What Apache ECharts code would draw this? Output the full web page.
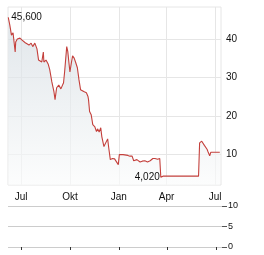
<!DOCTYPE html>
<html>
<head>
<meta charset="utf-8">
<script src="https://cdn.jsdelivr.net/npm/echarts@6/dist/echarts.min.js"></script>
<style>
html,body{margin:0;padding:0;background:#fff;}
#c{width:264px;height:255px;}
</style>
</head>
<body>
<div id="c"></div>
<script>
var dates = [
'2024-06-07','2024-06-10','2024-06-13','2024-06-16','2024-06-20','2024-06-21','2024-06-24','2024-06-29',
'2024-07-03','2024-07-06','2024-07-09','2024-07-12','2024-07-16','2024-07-20','2024-07-23','2024-07-27',
'2024-07-31','2024-08-03','2024-08-05','2024-08-09','2024-08-12','2024-08-13','2024-08-17','2024-08-21',
'2024-08-24','2024-08-28','2024-09-01','2024-09-03','2024-09-06','2024-09-10','2024-09-14','2024-09-17',
'2024-09-19','2024-09-21','2024-09-25','2024-09-27','2024-09-29','2024-10-01','2024-10-04','2024-10-06',
'2024-10-09','2024-10-12','2024-10-15','2024-10-18','2024-10-21','2024-10-23','2024-10-27','2024-10-29',
'2024-11-01','2024-11-04','2024-11-05','2024-11-07','2024-11-10','2024-11-13','2024-11-17','2024-11-20',
'2024-11-22','2024-11-25','2024-11-28','2024-11-30','2024-12-04','2024-12-07','2024-12-11','2024-12-13',
'2024-12-16','2024-12-20','2024-12-24','2024-12-26','2024-12-31','2025-01-02','2025-01-05','2025-01-09',
'2025-01-12','2025-01-18','2025-01-22','2025-01-26','2025-01-29','2025-02-01','2025-02-04','2025-02-10',
'2025-02-14','2025-02-19','2025-02-24','2025-03-01','2025-03-06','2025-03-10','2025-03-15','2025-03-19',
'2025-03-21','2025-03-25','2025-05-31','2025-06-02','2025-06-06','2025-06-11','2025-06-14','2025-06-16',
'2025-06-18','2025-06-21','2025-06-23','2025-07-01','2025-07-10'
];
var prices = [
45.6,43.5,41.0,41.6,36.6,39.2,40.0,40.2,
39.7,40.0,39.0,39.3,38.4,38.9,38.0,38.9,
37.4,34.5,34.8,34.0,36.6,34.0,34.5,33.5,
32.0,28.8,26.2,24.2,27.3,28.0,27.0,27.5,
28.6,31.4,38.0,36.7,34.0,31.4,34.0,35.6,
35.0,33.8,32.5,29.4,26.8,27.3,26.3,26.8,
26.0,25.0,24.2,21.1,20.3,17.7,17.1,15.9,
16.6,15.8,16.9,14.6,12.0,11.7,14.0,11.7,
8.6,8.9,8.8,9.0,7.3,9.9,10.1,9.9,
9.9,9.7,9.5,9.5,8.3,8.5,8.6,8.0,
8.2,8.3,8.0,8.3,8.9,8.9,8.7,8.9,
4.02,4.3,4.3,12.95,13.4,12.3,11.9,11.3,
10.6,9.6,10.5,10.5,10.5
];
var monthTicks = ['2024-07-01','2024-10-01','2025-01-01','2025-04-01','2025-07-01'];
var monthLabels = ['Jul','Okt','Jan','Apr','Jul'];
var priceTicks = [10,20,30,40];
var volumeTicks = [0,5,10];

function ts(s){var p=s.split('-');return Date.UTC(+p[0],+p[1]-1,+p[2]);}
var seriesData = dates.map(function(d,i){return [ts(d),prices[i]];});
var tickTs = monthTicks.map(ts);
var xMin = Date.UTC(2024,5,6,12), xMax = Date.UTC(2025,6,12,6);
function monthLabel(v){var i=tickTs.indexOf(v);return i>=0?monthLabels[i]:'';}
function fmt(v){return v.toFixed(3).replace('.',',');}

var font = 'Liberation Sans, Arial, sans-serif';
var chart = echarts.init(document.getElementById('c'), null, {renderer:'canvas'});
chart.setOption({
  animation:false,
  grid:[
    {left:8,right:43,top:7,bottom:70,show:true,borderColor:'#e6e6e6',borderWidth:1,backgroundColor:'transparent'},
    {left:8,right:42,top:206,height:41,show:false}
  ],
  xAxis:[
    {type:'value',gridIndex:0,min:xMin,max:xMax,scale:true,
     axisLine:{show:false},
     axisTick:{show:false,customValues:tickTs},
     axisLabel:{customValues:tickTs,formatter:monthLabel,fontSize:10,color:'#111',fontFamily:font,margin:7},
     splitLine:{show:true,lineStyle:{color:'#e6e6e6',width:1}}},
    {type:'value',gridIndex:1,min:xMin,max:xMax,scale:true,position:'top',
     axisLine:{show:false},
     axisTick:{show:true,inside:true,length:3,customValues:tickTs,lineStyle:{color:'#333'}},
     axisLabel:{show:false},
     splitLine:{show:false}}
  ],
  yAxis:[
    {type:'value',gridIndex:0,position:'right',min:2,max:48.3,
     axisLine:{show:false},
     axisTick:{show:false,customValues:priceTicks},
     axisLabel:{customValues:priceTicks,fontSize:10,color:'#111',fontFamily:font,margin:5},
     splitLine:{show:true,lineStyle:{color:'#e6e6e6',width:1}}},
    {type:'value',gridIndex:1,position:'right',min:0,max:10,interval:5,
     axisLine:{show:false},
     axisTick:{show:true,length:5,lineStyle:{color:'#555'}},
     axisLabel:{customValues:volumeTicks,fontSize:9,color:'#111',fontFamily:font,margin:6},
     splitLine:{show:true,lineStyle:{color:'#cccccc',width:1}}}
  ],
  series:[{
    type:'line',xAxisIndex:0,yAxisIndex:0,data:seriesData,
    showSymbol:false,symbol:'none',
    lineStyle:{color:'#c4403c',width:1.1},
    areaStyle:{color:new echarts.graphic.LinearGradient(0,0,0,1,[{offset:0,color:'#d3dbe1'},{offset:1,color:'#fafbfb'}])},
    markPoint:{
      symbol:'circle',symbolSize:0,silent:true,
      data:[
        {type:'max',label:{show:true,position:'right',distance:3,formatter:function(p){return fmt(p.value);},color:'#111',fontSize:10,fontFamily:font}},
        {type:'min',label:{show:true,position:'left',distance:1,formatter:function(p){return fmt(p.value);},color:'#111',fontSize:10,fontFamily:font}}
      ]
    }
  }]
});
</script>
</body>
</html>
